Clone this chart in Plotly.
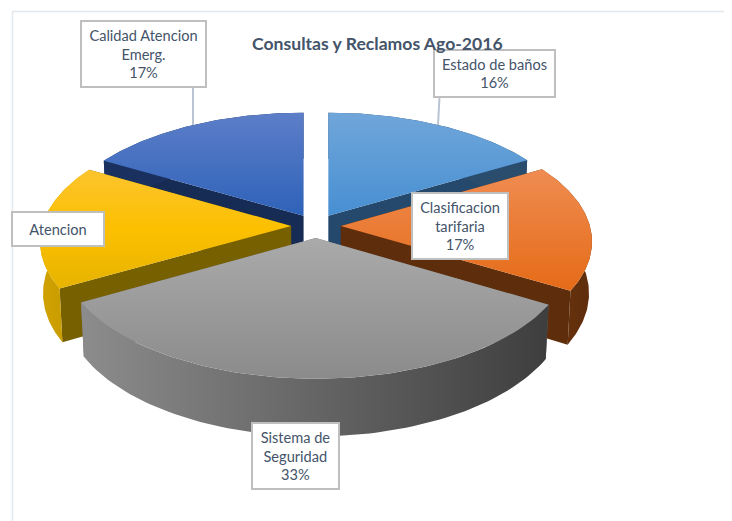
import numpy as np
import plotly.graph_objects as go

categories = ["Estado de baños", "Clasificacion tarifaria", "Sistema de Seguridad", "Atencion", "Calidad Atencion Emerg."]
values = [16.49, 17, 33.3, 16.6, 16.6]
label_text = ["Estado de baños<br>16%", "Clasificacion<br>tarifaria<br>17%", "Sistema de<br>Seguridad<br>33%", "Atencion", "Calidad Atencion<br>Emerg.<br>17%"]
title_text = "Consultas y Reclamos Ago-2016"

top_colors = [("#70a6da", "#478fd2"), ("#ef8c52", "#e56b17"), ("#aaaaaa", "#8b8b8b"), ("#fcc42e", "#fcc000", "#e6b300"), ("#5d7ec8", "#2e62b9")]
wall_colors = [("#2a4d6e", "#2a4d6e"), ("#6e3610", "#5e2d0b"), ("#8c8c8c", "#3e3e3e"), ("#d0a200", "#c29600"), ("#1a3160", "#1a3160")]
cut_colors = ["#25496c", "#5e2e0c", "#707070", "#776000", "#172c55"]

CX, CY, RX, RY, K, H, EXPL = 316, 226, 249, 119, 0.13, 51, 0.1
draw_order = [0, 4, 1, 3, 2]


def project(u, v, ox, oy, low=False):
    s = 1 / (1 + K * v)
    f = 0.988 if low else 1.0
    x = CX + RX * (ox + (u - ox) * s * f)
    y = CY - RY * v * s * f + (H * s if low else 0)
    return x, y


def poly(fig, xs, ys, stops, kind, name):
    solid = len(set(stops)) == 1
    gradient = None
    if not solid:
        ordered = list(reversed(stops)) if kind == "vertical" else list(stops)
        scale = [[j / (len(ordered) - 1), c] for j, c in enumerate(ordered)]
        gradient = dict(type=kind, colorscale=scale)
    fig.add_trace(go.Scatter(
        x=list(xs), y=list(ys), mode="lines", fill="toself",
        line=dict(width=0, color=stops[0]), name=name, hoverinfo="skip", showlegend=False,
        fillcolor=stops[0] if solid else None,
        fillgradient=gradient,
    ))


fig = go.Figure()
total = sum(values)
edges = np.cumsum([0] + values) / total * 2 * np.pi
for i in draw_order:
    a0, a1 = edges[i], edges[i + 1]
    mid = (a0 + a1) / 2
    ox, oy = EXPL * np.sin(mid), EXPL * np.cos(mid)
    t = np.linspace(a0, a1, 80)
    u, v = ox + np.sin(t), oy + np.cos(t)
    # cut faces
    for a in (a0, a1):
        ue, ve = ox + np.sin(a), oy + np.cos(a)
        pts = [project(ox, oy, ox, oy), project(ue, ve, ox, oy), project(ue, ve, ox, oy, True), project(ox, oy, ox, oy, True)]
        poly(fig, [p[0] for p in pts], [p[1] for p in pts], (cut_colors[i],), "none", categories[i])
    # outer wall
    xt, yt = project(u, v, ox, oy)
    xb, yb = project(u, v, ox, oy, True)
    poly(fig, np.r_[xt, xb[::-1]], np.r_[yt, yb[::-1]], wall_colors[i], "horizontal", categories[i])
    # top face
    xa, ya = project(ox, oy, ox, oy)
    poly(fig, np.r_[xa, xt], np.r_[ya, yt], top_colors[i], "vertical", categories[i])

boxes = [(494.5, 73.5, 119, 45), (460, 226, 94, 64), (295, 456, 85, 64), (58, 229, 90, 32), (143.5, 54, 123, 64)]
annotations = [dict(x=b[0], y=b[1], xref="x", yref="y", text=t, showarrow=False, width=b[2], height=b[3],
                    align="center", valign="middle", bgcolor="white", bordercolor="#bfbfbf", borderwidth=2, borderpad=0,
                    font=dict(family="Lato", size=14.6, color="#44546a"))
               for b, t in zip(boxes, label_text)]
annotations.append(dict(x=377, y=43, xref="x", yref="y", text="<b>" + title_text + "</b>", showarrow=False,
                        font=dict(family="Lato", size=17.6, color="#44546a")))

shapes = [
    dict(type="line", x0=12, x1=732, y0=11.5, y1=11.5, xref="x", yref="y", line=dict(color="#e3e7ee", width=1.5), layer="below"),
    dict(type="line", x0=12.5, x1=12.5, y0=11, y1=521, xref="x", yref="y", line=dict(color="#e3e7ee", width=1.5), layer="below"),
    dict(type="line", x0=193, x1=193, y0=87, y1=125, xref="x", yref="y", line=dict(color="#b8c4d2", width=2), layer="below"),
    dict(type="line", x0=439.5, x1=438, y0=97, y1=125, xref="x", yref="y", line=dict(color="#b8c4d2", width=2), layer="below"),
]

# the page keeps an 8 px body margin, so the plot area covers page pixels 8..732 and 8..521
fig.update_layout(
    width=724, height=513, margin=dict(l=0, r=0, t=0, b=0), autosize=False,
    paper_bgcolor="white", plot_bgcolor="white", showlegend=False,
    xaxis=dict(visible=False, range=[8, 732], fixedrange=True),
    yaxis=dict(visible=False, range=[521, 8], fixedrange=True),
    annotations=annotations, shapes=shapes,
)
fig.write_html("out.html", config=dict(displayModeBar=False))
